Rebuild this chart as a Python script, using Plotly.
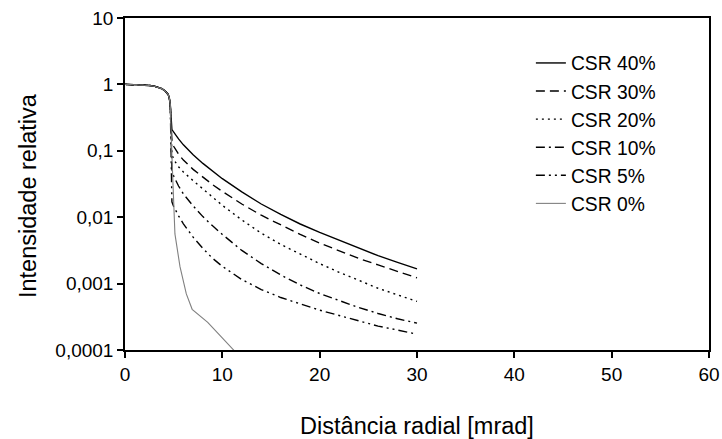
import plotly.graph_objects as go

# Shared solar-disk portion (all curves)
disk_x = [0, 1, 2, 2.5, 3, 3.5, 3.8, 4.1, 4.3, 4.45, 4.55, 4.65]
disk_y = [1, 0.995, 0.98, 0.965, 0.94, 0.9, 0.86, 0.8, 0.75, 0.7, 0.62, 0.5]

# Aureole portions (shared x positions)
aureole_x = [4.82, 5, 5.5, 6, 7, 8, 9, 10, 12, 14, 16, 18, 20, 22, 24, 26, 28, 30]

csr40_y = [0.209, 0.191, 0.151, 0.123, 0.0871, 0.0646, 0.049, 0.038, 0.024, 0.0158, 0.011,
           0.0079, 0.0059, 0.00447, 0.00339, 0.00263, 0.00209, 0.00167]
csr30_y = [0.141, 0.117, 0.0891, 0.0724, 0.0525, 0.0398, 0.0309, 0.0245, 0.0158, 0.0107, 0.00759,
           0.0055, 0.00407, 0.00309, 0.0024, 0.00191, 0.00151, 0.00122]
csr20_y = [0.0891, 0.0741, 0.0575, 0.0479, 0.0355, 0.0269, 0.0204, 0.0151, 0.0091, 0.00575, 0.00389,
           0.00275, 0.002, 0.00148, 0.00112, 0.000851, 0.000676, 0.00054]
csr10_y = [0.0525, 0.0417, 0.0295, 0.0224, 0.0148, 0.0102, 0.00741, 0.0055, 0.00316, 0.002, 0.00135,
           0.000955, 0.000708, 0.00055, 0.000437, 0.000355, 0.000295, 0.000254]
csr5_y = [0.017, 0.0145, 0.0105, 0.00794, 0.00501, 0.00339, 0.0024, 0.00182, 0.00115, 0.000813, 0.000617,
          0.00049, 0.000398, 0.000331, 0.000275, 0.000229, 0.0002, 0.000173]

csr0_x = [4.8, 4.96, 5.13, 5.65, 6.3, 6.9, 8.5, 11.3]
csr0_y = [0.1, 0.018, 0.0056, 0.0018, 0.0007, 0.00041, 0.00026, 0.000095]

series_names = ["CSR 40%", "CSR 30%", "CSR 20%", "CSR 10%", "CSR 5%", "CSR 0%"]

ytick_vals = [0.0001, 0.001, 0.01, 0.1, 1, 10]
ytick_text = ["0,0001", "0,001", "0,01", "0,1", "1", "10"]
xtick_vals = [0, 10, 20, 30, 40, 50, 60]

series = [
    (aureole_x, csr40_y, dict(color="black", width=1.4, dash="solid")),
    (aureole_x, csr30_y, dict(color="black", width=1.4, dash="9px,5px")),
    (aureole_x, csr20_y, dict(color="black", width=1.4, dash="2px,4px")),
    (aureole_x, csr10_y, dict(color="black", width=1.4, dash="9px,4px,2px,4px")),
    (aureole_x, csr5_y, dict(color="black", width=1.4, dash="9px,4px,2px,4px,2px,4px")),
    (csr0_x, csr0_y, dict(color="#808080", width=1.1, dash="solid")),
]

fig = go.Figure()
for name, (sx, sy, line) in zip(series_names, series):
    fig.add_trace(go.Scatter(
        x=disk_x + sx, y=disk_y + sy, mode="lines", name=name, line=line,
    ))

font = "Liberation Sans, Arial, sans-serif"
fig.update_layout(
    width=722, height=439,
    margin=dict(l=125, r=13, t=18, b=89),
    paper_bgcolor="white", plot_bgcolor="white",
    font=dict(family=font, color="black", size=19),
    showlegend=True,
    legend=dict(
        x=0.695, y=0.922, xanchor="left", yanchor="top",
        bgcolor="rgba(0,0,0,0)", borderwidth=0,
        font=dict(size=19.3, family=font, color="black"),
        tracegroupgap=0,
    ),
    xaxis=dict(
        range=[0, 60], tickvals=xtick_vals, showgrid=False, zeroline=False,
        showline=True, linecolor="black", linewidth=1.5, mirror=True,
        ticks="outside", ticklen=6, tickcolor="black", tickwidth=1.5,
        tickfont=dict(size=19),
        title=dict(text="Distância radial [mrad]", font=dict(size=23.5), standoff=35),
        automargin=False,
    ),
    yaxis=dict(
        type="log", range=[-4, 1], tickvals=ytick_vals, ticktext=ytick_text,
        showgrid=False, zeroline=False,
        showline=True, linecolor="black", linewidth=1.5, mirror=True,
        ticks="outside", ticklen=6, tickcolor="black", tickwidth=1.5,
        tickfont=dict(size=19),
        automargin=False,
    ),
    annotations=[dict(
        text="Intensidade relativa", textangle=-90,
        xref="paper", yref="paper", x=-0.166, y=0.464,
        xanchor="center", yanchor="middle", showarrow=False,
        font=dict(size=23.5, family=font, color="black"),
    )],
)

fig.write_html("out.html")
